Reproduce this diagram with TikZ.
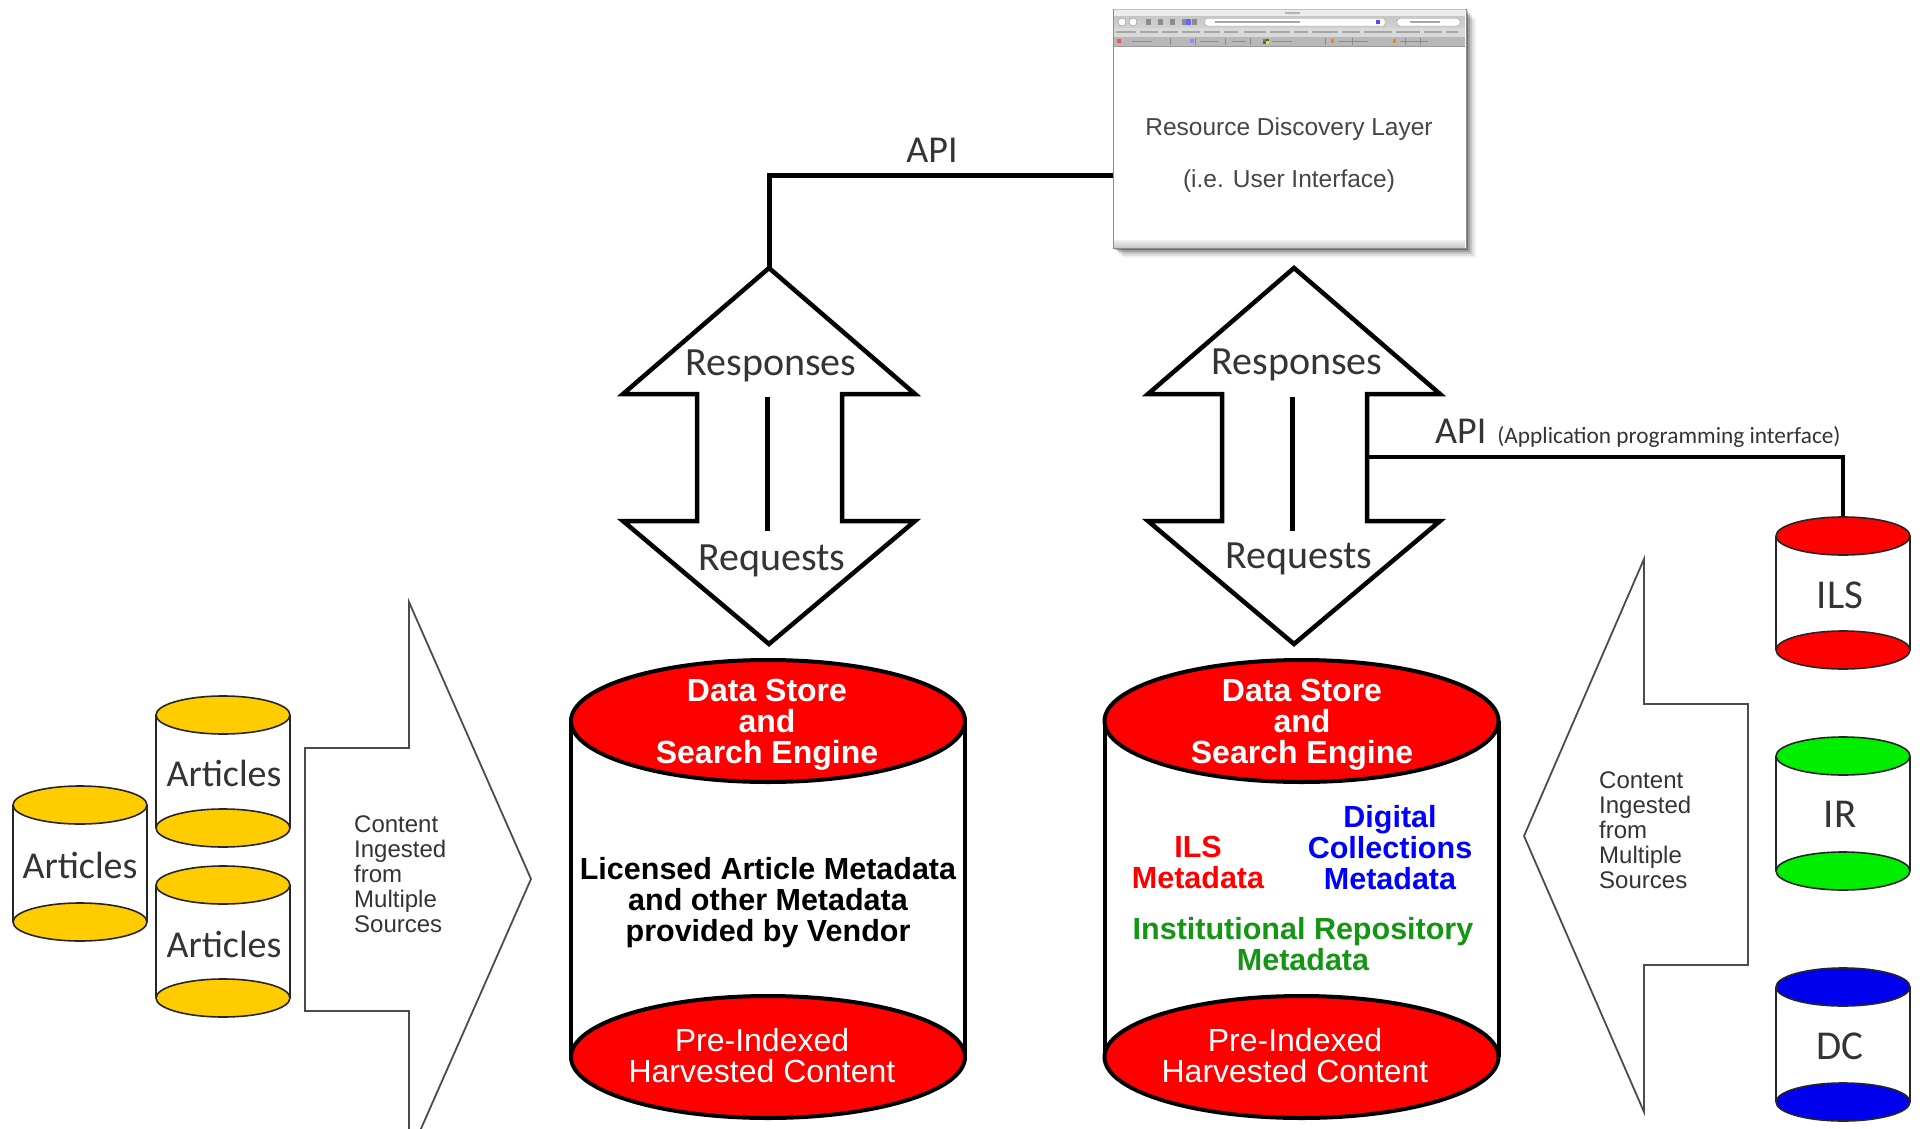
\documentclass[tikz,border=0pt]{standalone}
\usepackage{fontspec}
\setmainfont{Liberation Sans}
\newfontfamily\calib{Carlito}
\definecolor{capred}{RGB}{255,0,0}
\definecolor{artyellow}{RGB}{255,204,0}
\definecolor{irgreen}{RGB}{0,238,0}
\definecolor{dcblue}{RGB}{0,0,238}
\definecolor{txtred}{RGB}{255,0,0}
\definecolor{txtblue}{RGB}{0,0,255}
\definecolor{txtgreen}{RGB}{20,150,20}
\definecolor{darktxt}{RGB}{52,52,52}
\definecolor{rdlgray}{RGB}{70,70,70}
\tikzset{
  bigcap/.style={fill=capred, draw=black, line width=4pt},
  bigside/.style={draw=black, line width=4pt},
  dblarrow/.style={draw=black, line width=4.5pt, fill=white, line join=miter},
  midbar/.style={draw=black, line width=5pt},
  cylline/.style={draw=black!85, line width=1.6pt},
  ingest/.style={draw=black!70, line width=1.8pt, fill=white, line join=miter},
  apiline/.style={draw=black, line width=5pt, line join=miter},
  apiline2/.style={draw=black, line width=3.5pt, line join=miter},
  calibtxt/.style={text=darktxt, font=\calib\fontsize{38}{40}\selectfont, inner sep=0pt},
  srctxt/.style={text=darktxt, font=\calib\fontsize{41}{42}\selectfont, inner sep=0pt},
  arrtxt/.style={text=darktxt, font=\calib\fontsize{40}{42}\selectfont, inner sep=0pt},
  captxt/.style={text=white, font=\bfseries\fontsize{32}{31}\selectfont, align=center, inner sep=0pt},
  bottxt/.style={text=white, font=\fontsize{32}{31}\selectfont, align=center, inner sep=0pt},
  midtxt/.style={font=\bfseries\fontsize{30.5}{31}\selectfont, align=center, inner sep=0pt},
  ingtxt/.style={text=darktxt, font=\fontsize{24}{25}\selectfont, align=left, inner sep=0pt, anchor=west},
  rdltxt/.style={text=rdlgray, font=\fontsize{24.5}{26}\selectfont, inner sep=0pt},
  browser/.style={draw=black!45, fill=white, line width=0.8pt, minimum width=353pt, minimum height=239pt, inner sep=0pt}
}
\newcommand\mycyl[4]{% cx, top y, bottom y, colour
  \fill[white] (#1-67,#2) rectangle (#1+67,#3);
  \draw[cylline] (#1-67,#2) -- (#1-67,#3) (#1+67,#2) -- (#1+67,#3);
  \draw[cylline, fill=#4] (#1,#3) ellipse [x radius=67pt, y radius=19pt];
  \draw[cylline, fill=#4] (#1,#2) ellipse [x radius=67pt, y radius=19pt];
}
\newcommand\mybigcyl[1]{% cx
  \fill[white] (#1-197,721) rectangle (#1+197,1057);
  \draw[bigside] (#1-197,721) -- (#1-197,1057) (#1+197,721) -- (#1+197,1057);
  \draw[bigcap] (#1,1057) ellipse [x radius=197pt, y radius=61pt];
  \draw[bigcap] (#1,721) ellipse [x radius=197pt, y radius=61pt];
}
\newcommand\mydblarrow{% centred on x=769
  \draw[dblarrow] (769,268) -- (915,394) -- (842,394) -- (842,521) -- (915,521)
    -- (769,644) -- (623,521) -- (697,521) -- (697,394) -- (623,394) -- cycle;
  \draw[midbar] (767,397) -- (767,531);
}
\begin{document}
\begin{tikzpicture}[x=1pt,y=-1pt]
\clip (0,0) rectangle (1927,1129);
\fill[white] (0,0) rectangle (1927,1129);

% ---------- browser window (Resource Discovery Layer)
\foreach \d/\o in {10/0.05,8/0.08,6/0.12,4/0.18,2/0.3}
  \fill[black,opacity=\o] (1113+\d,9+\d) rectangle (1466+\d,248+\d);
\node[browser] (rdl) at (1289.5,128.5) {};
\shade[top color=black!24, bottom color=black!12] (1114,10) rectangle (1465,46);
\fill[black!8] (1114,10) rectangle (1465,16);
\fill[black!30] (1285,12) rectangle (1300,14);
\fill[black!28] (1114,37) rectangle (1465,46);
\fill[black!15] (1114,28) rectangle (1465,37);
% buttons
\foreach \bx in {1122,1133} \draw[black!45, fill=white] (\bx,22) circle [radius=4pt];
\foreach \bx in {1148,1160,1172,1184,1194} \fill[black!45] (\bx-2.5,19) rectangle (\bx+2.5,25);
\fill[blue!60] (1186,19) rectangle (1191,25);
% address & search fields
\draw[black!40, fill=white, rounded corners=2pt] (1205,18.5) rectangle (1385,26);
\fill[black!35] (1215,21.5) rectangle (1300,23);
\fill[blue!70] (1376,20) rectangle (1380,24.5);
\draw[black!40, fill=white, rounded corners=3pt] (1397,18.5) rectangle (1460,26);
\fill[black!35] (1410,21.5) rectangle (1440,23);
% bookmarks row
\foreach \bx/\bw in {1116/20,1140/18,1162/16,1182/18,1204/16,1224/14,1244/22,1270/20,1294/14,1312/26,1342/18,1364/28,1396/24,1424/18,1446/12}
  \fill[black!35] (\bx,31.5) rectangle (\bx+\bw,33);
% tabs row
\foreach \tx in {1170,1195,1225,1250,1325,1352,1405,1420} \draw[black!45, line width=0.6pt] (\tx,38) -- (\tx,45);
\fill[red!70] (1117,39.5) rectangle (1121,43.5);
\fill[blue!45] (1190,39.5) rectangle (1194,43.5);
\fill[red!70] (1263,39) rectangle (1266,41.5);
\fill[green!60!black] (1266,39) rectangle (1269,41.5);
\fill[blue!70] (1263,41.5) rectangle (1266,44);
\fill[yellow!80!orange] (1266,41.5) rectangle (1269,44);
\fill[orange] (1331,39.5) rectangle (1334,43.5);
\fill[orange] (1393,39.5) rectangle (1396,43.5);
\foreach \bx/\bw in {1132/20,1200/18,1232/14,1272/20,1338/30,1400/28}
  \fill[black!45] (\bx,41) rectangle (\bx+\bw,42.3);
\draw[black!40, line width=0.6pt] (1114,46) -- (1465,46);
% status bar
\shade[top color=black!6, bottom color=black!22] (1114,240) rectangle (1465,247.5);
\node[rdltxt] (rdlA) at (1289,129) {Resource Discovery Layer};
\node[rdltxt] (rdlB) at (1289,181) {(i.e. User Interface)};

% ---------- double arrows
\mydblarrow
\coordinate (lTip) at (769,268);
\node[arrtxt, anchor=base] (resL) at (771,375) {Responses};
\node[arrtxt, anchor=base] (reqL) at (772,570) {Requests};
\begin{scope}[xshift=525pt]
  \mydblarrow
  \coordinate (rShaft) at (842,457);
\end{scope}
\node[arrtxt, anchor=base] (resR) at (1297,374) {Responses};
\node[arrtxt, anchor=base] (reqR) at (1299,568) {Requests};

% ---------- API connectors
\coordinate (apiL) at (1113,175);
\draw[apiline] (lTip) |- (apiL);
\node[calibtxt, anchor=base] (apiT) at (932,162) {API};

\coordinate (ilsTop) at (1843,517);
\draw[apiline2] (rShaft) -| (ilsTop);
\node[calibtxt, anchor=base west] (apiR) at (1435,443) {API\hspace{11pt}{\fontsize{23.3}{24}\selectfont (Application programming interface)}};

% ---------- big cylinders
\mybigcyl{768}
\node[captxt] (dsL) at (767,725) {Data Store\\and\\Search Engine};
\node[midtxt] (licL) at (768,903) {Licensed Article Metadata\\and other Metadata\\provided by Vendor};
\node[bottxt] (phL) at (762,1056) {Pre-Indexed\\Harvested Content};

\mybigcyl{1301.5}
\node[captxt] (dsR) at (1302,725) {Data Store\\and\\Search Engine};
\node[midtxt, text=txtred] (ilsM) at (1198,862) {ILS\\Metadata};
\node[midtxt, text=txtblue] (dcM) at (1390,848) {Digital\\Collections\\Metadata};
\node[midtxt, text=txtgreen] (irM) at (1303,944) {Institutional Repository\\Metadata};
\node[bottxt] (phR) at (1295,1056) {Pre-Indexed\\Harvested Content};

% ---------- ingest arrows
\draw[ingest] (305,748) -- (409,748) -- (409,602) -- (531,879) -- (409,1156)
  -- (409,1011) -- (305,1011) -- cycle;
\node[ingtxt] (ingL) at (354,874) {Content\\Ingested\\from\\Multiple\\Sources};
\draw[ingest] (1748,704) -- (1644,704) -- (1644,559) -- (1524,836) -- (1644,1112)
  -- (1644,965) -- (1748,965) -- cycle;
\node[ingtxt] (ingR) at (1599,830) {Content\\Ingested\\from\\Multiple\\Sources};

% ---------- article cylinders
\mycyl{80}{805}{922}{artyellow}
\node[calibtxt] (artA) at (80,865) {Articles};
\mycyl{223}{715}{828}{artyellow}
\node[calibtxt] (artB) at (224,773) {Articles};
\mycyl{223}{885}{998}{artyellow}
\node[calibtxt] (artC) at (224,944) {Articles};

% ---------- source cylinders
\mycyl{1843}{536}{650}{capred}
\node[srctxt] (ils) at (1840,595) {ILS};
\mycyl{1843}{756}{871}{irgreen}
\node[srctxt] (ir) at (1840,814) {IR};
\mycyl{1843}{987}{1102}{dcblue}
\node[srctxt] (dc) at (1840,1046) {DC};
\end{tikzpicture}
\end{document}
